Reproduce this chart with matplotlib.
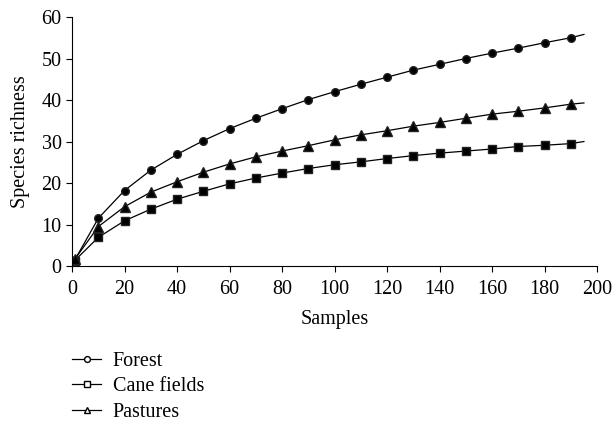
import matplotlib
matplotlib.use('Agg')
import matplotlib.pyplot as plt
from matplotlib.lines import Line2D

plt.rcParams['font.family'] = ['Liberation Serif', 'DejaVu Serif']

samples = [1, 10, 20, 30, 40, 50, 60, 70, 80, 90, 100, 110, 120, 130, 140, 150, 160, 170, 180, 190]
forest = [1.4, 11.5, 18.2, 23.1, 26.9, 30.2, 33.1, 35.6, 37.9, 40.1, 42.0, 43.8, 45.5, 47.2, 48.6,
          50.0, 51.3, 52.5, 53.8, 55.0]
cane = [1.3, 6.9, 10.9, 13.7, 16.1, 18.0, 19.8, 21.2, 22.4, 23.5, 24.4, 25.1, 25.9, 26.6, 27.2,
        27.7, 28.2, 28.8, 29.1, 29.5]
pastures = [1.6, 9.5, 14.3, 17.8, 20.3, 22.6, 24.6, 26.3, 27.7, 29.0, 30.4, 31.6, 32.6, 33.7, 34.6,
            35.6, 36.6, 37.3, 38.1, 39.0]

# fitted curves run a little past the last sample
curve_end = 195
end_values = {'Forest': 55.8, 'Cane fields': 30.0, 'Pastures': 39.3}

series = [('Forest', forest, 'o', 5.5), ('Cane fields', cane, 's', 5.5), ('Pastures', pastures, '^', 6.5)]

fig = plt.figure(figsize=(6.13, 4.25), dpi=100)
ax = fig.add_axes([0.1175, 0.374, 0.8565, 0.586])

handles = []
for name, vals, mk, ms in series:
    ax.plot(samples + [curve_end], vals + [end_values[name]], color='black', lw=0.9,
            marker=mk, ms=ms, markevery=list(range(len(samples))), mfc='black', mec='#222222')
    handles.append(Line2D([], [], color='black', lw=0.9, marker=mk, ms=4.2, mfc='white', mec='black'))

ax.set_xlim(0, 200)
ax.set_ylim(0, 60)
ax.set_xticks(range(0, 201, 20))
ax.set_yticks(range(0, 61, 10))
ax.spines['top'].set_visible(False)
ax.spines['right'].set_visible(False)
ax.tick_params(direction='out', length=4, width=0.8, labelsize=14.5, color='black')
ax.tick_params(axis='x', pad=6)
ax.set_xlabel('Samples', fontsize=14.5, labelpad=8)
ax.set_ylabel('Species richness', fontsize=14.5, labelpad=8)

fig.legend(handles, [s[0] for s in series], loc='upper left', bbox_to_anchor=(0.105, 0.192),
           frameon=False, fontsize=14.5, handlelength=1.4, handletextpad=0.6, labelspacing=0.33,
           borderaxespad=0)

fig.savefig('out.png', dpi=100)
